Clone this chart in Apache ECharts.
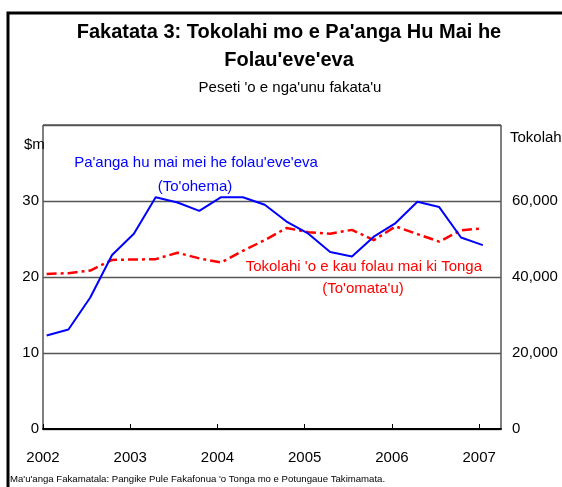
<!DOCTYPE html>
<html>
<head>
<meta charset="utf-8">
<title>Fakatata 3</title>
<script src="https://cdn.jsdelivr.net/npm/echarts@6/dist/echarts.min.js"></script>
<style>
  html, body { margin: 0; padding: 0; background: #fff; }
  #chart { width: 562px; height: 487px; }
</style>
</head>
<body>
<div id="chart"></div>
<script>
// quarterly observations (plotted at mid-month of the quarter's first month)
var quarters = [
  '2002-01', '2002-04', '2002-07', '2002-10',
  '2003-01', '2003-04', '2003-07', '2003-10',
  '2004-01', '2004-04', '2004-07', '2004-10',
  '2005-01', '2005-04', '2005-07', '2005-10',
  '2006-01', '2006-04', '2006-07', '2006-10',
  '2007-01'
]
// Pa'anga hu mai mei he folau'eve'eva, $m (left axis)
var remittances = [12.3, 13.1, 17.3, 22.9, 25.7, 30.5, 29.8, 28.7, 30.5, 30.5, 29.5,
  27.3, 25.7, 23.3, 22.7, 25.3, 27.1, 29.9, 29.2, 25.2, 24.2]
// Tokolahi 'o e kau folau mai ki Tonga (right axis)
var arrivals = [40800, 41000, 41700, 44500, 44600, 44700, 46400, 44900, 43800, 46900, 49700,
  52900, 51800, 51400, 52400, 49700, 53300, 51300, 49300, 52300, 52800]
var leftTicks = [0, 10, 20, 30, 40]
var rightTicks = [0, 20000, 40000, 60000, 80000]
var yearMin = 2002
var yearMax = 2007.25

var FONT = '"Liberation Sans", Arial, sans-serif'

function toYear(q) {
  var parts = q.split('-')
  return Number(parts[0]) + (Number(parts[1]) - 0.5) / 12
}

var blueData = quarters.map(function (q, i) { return [toYear(q), remittances[i]] })
var redData = quarters.map(function (q, i) { return [toYear(q), arrivals[i]] })

var chart = echarts.init(document.getElementById('chart'))

var option = {
  backgroundColor: '#fff',
  animation: false,
  grid: {
    left: 43,
    right: 61,
    top: 125,
    bottom: 58,
    show: true,
    borderColor: '#000',
    borderWidth: 1,
  },
  xAxis: {
    type: 'value',
    min: yearMin,
    max: yearMax,
    interval: 1,
    axisLine: { show: true, lineStyle: { color: '#000', width: 2 } },
    axisTick: { show: true, inside: true, length: 5, lineStyle: { color: '#000' } },
    splitLine: { show: false },
    axisLabel: {
      color: '#000',
      fontSize: 15,
      fontFamily: FONT,
      margin: 21,
      showMaxLabel: false,
      formatter: function (v) {
        return v % 1 === 0 ? String(v) : ''
      },
    },
  },
  yAxis: [
    {
      type: 'value',
      min: leftTicks[0],
      max: leftTicks[leftTicks.length - 1],
      interval: leftTicks[1] - leftTicks[0],
      axisLine: { show: false },
      axisTick: { show: false },
      splitLine: { show: true, lineStyle: { color: '#555', width: 1.3 } },
      axisLabel: {
        color: '#000',
        fontSize: 15,
        fontFamily: FONT,
        margin: 4,
        showMaxLabel: false,
      },
    },
    {
      type: 'value',
      min: rightTicks[0],
      max: rightTicks[rightTicks.length - 1],
      interval: rightTicks[1] - rightTicks[0],
      position: 'right',
      axisLine: { show: false },
      axisTick: { show: false },
      splitLine: { show: false },
      axisLabel: {
        color: '#000',
        fontSize: 15,
        fontFamily: FONT,
        margin: 11,
        showMaxLabel: false,
        formatter: function (v) {
          return v.toLocaleString('en-US')
        },
      },
    },
  ],
  series: [
    {
      name: "Pa'anga hu mai mei he folau'eve'eva",
      type: 'line',
      yAxisIndex: 0,
      data: blueData,
      showSymbol: false,
      lineStyle: { color: '#0000ff', width: 2 },
      z: 3,
    },
    {
      name: "Tokolahi 'o e kau folau mai ki Tonga",
      type: 'line',
      yAxisIndex: 1,
      data: redData,
      showSymbol: false,
      lineStyle: { color: '#ff0000', width: 2.5, type: [10, 4, 3, 4] },
      z: 2,
    },
  ],
  graphic: [
    // outer frame
    {
      type: 'rect',
      shape: { x: 8, y: 13, width: 620, height: 520 },
      style: { fill: null, stroke: '#000', lineWidth: 3 },
      z: 0,
    },
    {
      type: 'text',
      style: {
        text: "Fakatata 3: Tokolahi mo e Pa'anga Hu Mai he",
        x: 289, y: 32, align: 'center', verticalAlign: 'middle',
        fontSize: 20, fontWeight: 'bold', fontFamily: FONT, fill: '#000',
      },
    },
    {
      type: 'text',
      style: {
        text: "Folau'eve'eva",
        x: 289, y: 60, align: 'center', verticalAlign: 'middle',
        fontSize: 20, fontWeight: 'bold', fontFamily: FONT, fill: '#000',
      },
    },
    {
      type: 'text',
      style: {
        text: "Peseti 'o e nga'unu fakata'u",
        x: 290, y: 88, align: 'center', verticalAlign: 'middle',
        fontSize: 15, fontFamily: FONT, fill: '#000',
      },
    },
    {
      type: 'text',
      style: {
        text: '$m',
        x: 24, y: 145, align: 'left', verticalAlign: 'middle',
        fontSize: 15, fontFamily: FONT, fill: '#000',
      },
    },
    {
      type: 'text',
      style: {
        text: 'Tokolahi',
        x: 510, y: 138, align: 'left', verticalAlign: 'middle',
        fontSize: 15, fontFamily: FONT, fill: '#000',
      },
    },
    {
      type: 'text',
      style: {
        text: "Pa'anga hu mai mei he folau'eve'eva",
        x: 196, y: 163, align: 'center', verticalAlign: 'middle',
        fontSize: 15, fontFamily: FONT, fill: '#0000ff',
      },
    },
    {
      type: 'text',
      style: {
        text: "(To'ohema)",
        x: 195, y: 187, align: 'center', verticalAlign: 'middle',
        fontSize: 15, fontFamily: FONT, fill: '#0000ff',
      },
    },
    {
      type: 'text',
      style: {
        text: "Tokolahi 'o e kau folau mai ki Tonga",
        x: 482, y: 267, align: 'right', verticalAlign: 'middle',
        fontSize: 15, fontFamily: FONT, fill: '#ff0000',
      },
    },
    {
      type: 'text',
      style: {
        text: "(To'omata'u)",
        x: 363, y: 289, align: 'center', verticalAlign: 'middle',
        fontSize: 15, fontFamily: FONT, fill: '#ff0000',
      },
    },
    {
      type: 'text',
      style: {
        text: "Ma'u'anga Fakamatala: Pangike Pule Fakafonua 'o Tonga mo e Potungaue Takimamata.",
        x: 10, y: 479, align: 'left', verticalAlign: 'middle',
        fontSize: 9.6, fontFamily: FONT, fill: '#000',
      },
    },
  ],
}

chart.setOption(option)

window.addEventListener('resize', function () {
  chart.resize()
})
</script>
</body>
</html>
